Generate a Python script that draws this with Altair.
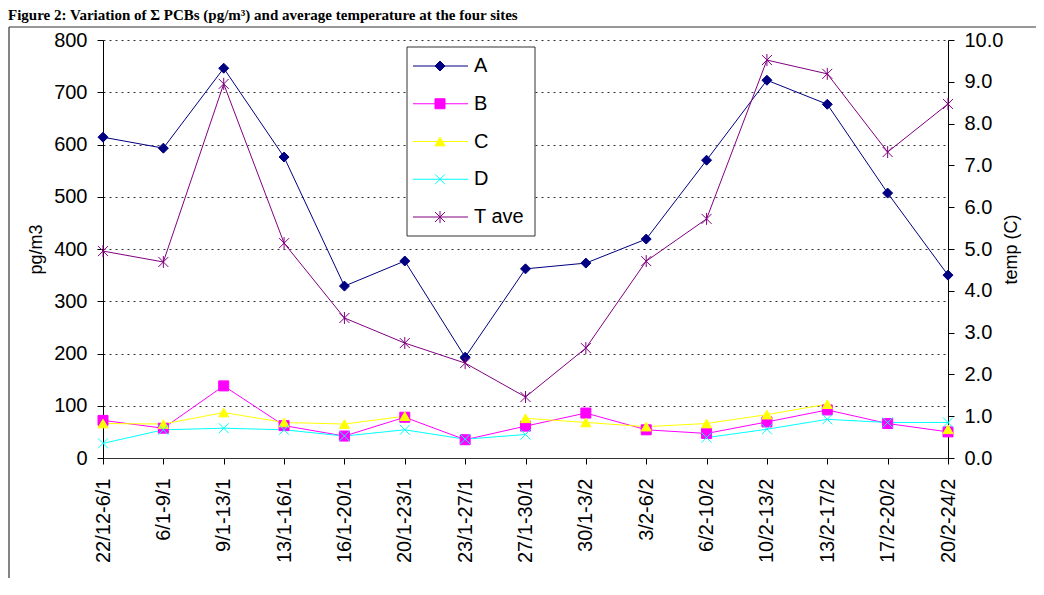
import altair as alt
import pandas as pd

# ---------------- data ----------------
categories = ["22/12-6/1", "6/1-9/1", "9/1-13/1", "13/1-16/1", "16/1-20/1",
              "20/1-23/1", "23/1-27/1", "27/1-30/1", "30/1-3/2", "3/2-6/2",
              "6/2-10/2", "10/2-13/2", "13/2-17/2", "17/2-20/2", "20/2-24/2"]

site_names = ["A", "B", "C", "D"]
A_values = [614, 593, 746, 576, 329, 377, 193, 362, 373, 419, 570, 723, 677, 507, 350]
B_values = [72, 57, 138, 62, 42, 78, 35, 61, 86, 54, 47, 69, 92, 66, 50]
C_values = [66, 65, 87, 68, 65, 80, None, 76, 68, 60, 66, 83, 103, None, 55]
D_values = [28, 54, 57, 54, 42, 54, 36, 45, None, None, 39, 55, 74, 68, 68]

temp_name = "T ave"
temp_values = [4.95, 4.69, 8.95, 5.14, 3.35, 2.75, 2.27, 1.46, 2.63, 4.71,
               5.72, 9.52, 9.19, 7.32, 8.47]

title_text = "Figure 2: Variation of \u03a3 PCBs (pg/m\u00b3) and average temperature at the four sites"

all_names = site_names + [temp_name]
color_range = ["#000080", "#FF00FF", "#FFFF00", "#00FFFF", "#800080"]
X_PATH = "M-1,-1L1,1M-1,1L1,-1"
STAR_PATH = "M-1,-1L1,1M-1,1L1,-1M0,-1.2L0,1.2"
shape_range = ["diamond", "square", "triangle-up", X_PATH, STAR_PATH]
size_range = [100, 100, 130, 100, 110]

# ---------------- tables ----------------
rows = []
for name, vals in zip(site_names, [A_values, B_values, C_values, D_values]):
    for i, (c, v) in enumerate(zip(categories, vals)):
        rows.append({"period": c, "idx": i, "series": name, "value": v})
pcb = pd.DataFrame(rows)

temp = pd.DataFrame({"period": categories, "idx": list(range(len(categories))),
                     "series": temp_name, "temp": temp_values})

legend_df = pd.DataFrame({"series": all_names})
one = pd.DataFrame({"t": [title_text]})

FONT = "Liberation Sans"

color_scale = alt.Scale(domain=all_names, range=color_range)
shape_scale = alt.Scale(domain=all_names, range=shape_range)
size_scale = alt.Scale(domain=all_names, range=size_range)

x_enc = alt.X("period:N", sort=categories,
              scale=alt.Scale(type="point", domain=categories, padding=0),
              axis=alt.Axis(title=None, labelAngle=270, tickSize=6, labelPadding=14,
                            labelFontSize=20, labelFont=FONT, labelColor="#000",
                            domainColor="#333", tickColor="#000", grid=False,
                            labelOverlap=False))

left_axis = alt.Axis(values=list(range(0, 801, 100)), grid=True, gridDash=[2, 4],
                     gridColor="#000", gridOpacity=0.8, tickSize=6, labelPadding=10,
                     labelFontSize=20, labelFont=FONT, labelColor="#000",
                     title="pg/m3", titleFontSize=18, titleFont=FONT,
                     titleFontWeight="normal", titlePadding=8, titleColor="#000",
                     domainColor="#000", tickColor="#000")

right_axis = alt.Axis(orient="right", values=list(range(0, 11)), format=".1f",
                      grid=False, tickSize=6, labelPadding=10, labelFontSize=20,
                      labelFont=FONT, labelColor="#000", title="temp (C)",
                      titleFontSize=18, titleFont=FONT, titleFontWeight="normal",
                      titleAngle=270, titlePadding=18, titleColor="#000",
                      domainColor="#000", tickColor="#000")

y_left = alt.Y("value:Q", scale=alt.Scale(domain=[0, 800], nice=False), axis=left_axis)
y_right = alt.Y("temp:Q", scale=alt.Scale(domain=[0, 10], nice=False), axis=right_axis)


def marker_enc():
    return dict(
        shape=alt.Shape("series:N", scale=shape_scale, legend=None),
        fill=alt.Fill("series:N", scale=color_scale, legend=None),
        stroke=alt.Stroke("series:N", scale=color_scale, legend=None),
        size=alt.Size("series:N", scale=size_scale, legend=None),
    )


# ---------------- PCB sites (left axis) ----------------
pcb_lines = alt.Chart(pcb).mark_line(strokeWidth=1, invalid="break-paths-filter-domains").encode(
    x=x_enc, y=y_left,
    color=alt.Color("series:N", scale=color_scale, legend=None),
    detail="series:N",
    order=alt.Order("idx:Q"))

pcb_points = alt.Chart(pcb).transform_filter("isValid(datum.value)").mark_point(
    filled=True, strokeWidth=1, opacity=1).encode(x=x_enc, y=y_left, **marker_enc())

left_group = alt.layer(pcb_lines, pcb_points)

# ---------------- temperature (right axis) ----------------
temp_line = alt.Chart(temp).mark_line(strokeWidth=1, color="#800080").encode(
    x=x_enc, y=y_right, order=alt.Order("idx:Q"))
temp_points = alt.Chart(temp).mark_point(filled=True, strokeWidth=1, opacity=1).encode(
    x=x_enc, y=y_right, **marker_enc())
right_group = alt.layer(temp_line, temp_points)

# ---------------- legend (drawn as marks) ----------------
ly = alt.Y("series:N", scale=alt.Scale(type="point", domain=all_names, range=[26, 177], padding=0),
           axis=None)
legend_box = alt.Chart(one).mark_rect(fill="white", stroke="#333", strokeWidth=1).encode(
    x=alt.value(304), x2=alt.value(432), y=alt.value(7), y2=alt.value(196))
legend_rules = alt.Chart(legend_df).mark_rule(strokeWidth=1).encode(
    x=alt.value(310), x2=alt.value(365), y=ly,
    color=alt.Color("series:N", scale=color_scale, legend=None))
legend_points = alt.Chart(legend_df).mark_point(filled=True, strokeWidth=1, opacity=1).encode(
    x=alt.value(337), y=ly, **marker_enc())
legend_text = alt.Chart(legend_df).mark_text(align="left", baseline="middle", fontSize=20,
                                             font=FONT, color="#000").encode(
    x=alt.value(371), y=ly, text="series:N")
legend_group = alt.layer(legend_box, legend_rules, legend_points, legend_text)

# ---------------- frame (top and left edges) & title ----------------
frame_top = alt.Chart(one).mark_rule(stroke="#333", strokeWidth=1.2).encode(
    x=alt.value(-94), x2=alt.value(960), y=alt.value(-13))
frame_left = alt.Chart(one).mark_rule(stroke="#333", strokeWidth=1.2).encode(
    x=alt.value(-94), y=alt.value(-13), y2=alt.value(600))
title = alt.Chart(one).mark_text(align="left", baseline="top", font="Liberation Serif",
                                 fontSize=15, fontWeight="bold", color="#000").encode(
    x=alt.value(-95), y=alt.value(-32), text="t:N")

chart = alt.layer(frame_top, frame_left, title, left_group, right_group, legend_group).resolve_scale(
    y="independent"
).properties(
    width=845, height=418,
    padding={"left": 95, "top": 32, "right": 88, "bottom": 120},
    autosize=alt.AutoSizeParams(type="none"),
    background="white",
).configure_view(stroke=None)

chart.save("out.html", embed_options={"renderer": "svg", "actions": False})
